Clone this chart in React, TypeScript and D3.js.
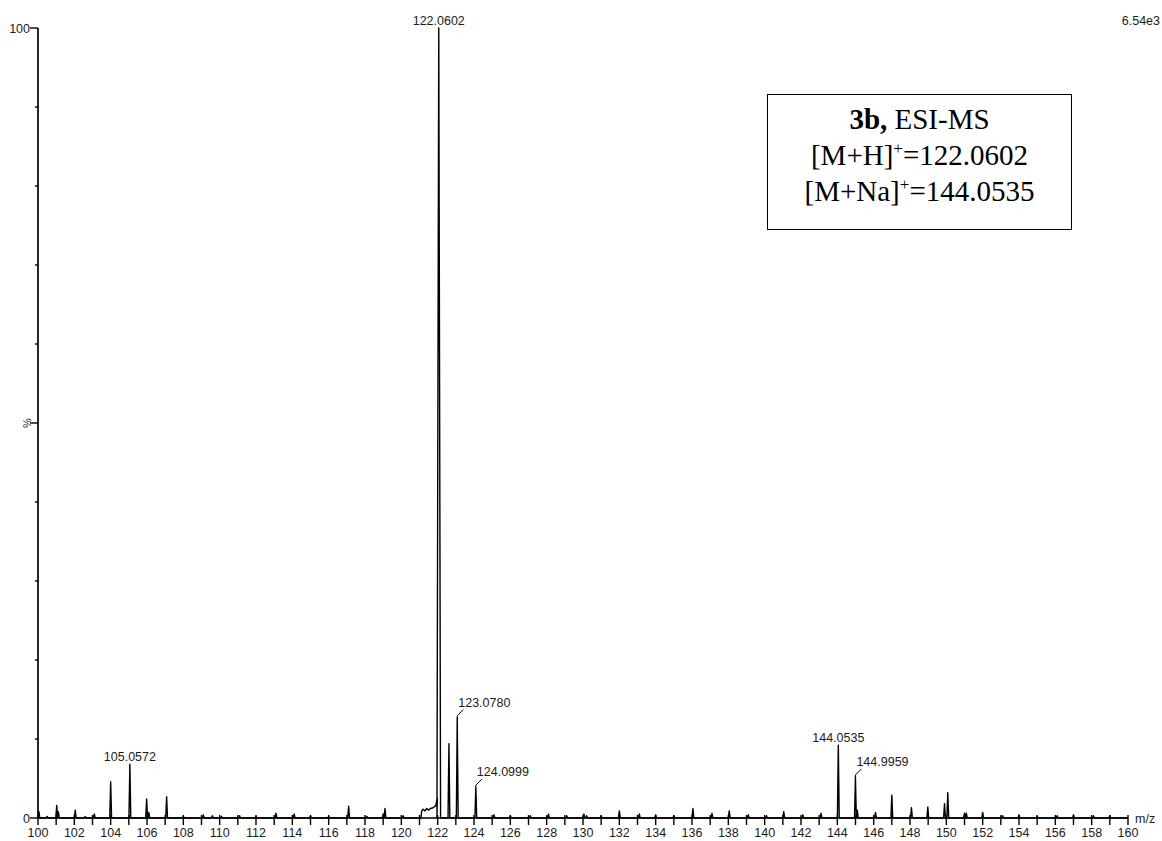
import React, { useEffect, useRef } from "react";
import * as d3 from "d3";

// centroid peaks (m/z, relative intensity %)
const peakMz = [
  100.05, 100.5, 101.03, 101.12, 102.05, 102.6, 103.1, 104.0, 105.0572, 105.98,
  106.1, 107.08, 108.0, 109.1, 109.6, 110.1, 111.1, 112.0, 113.1, 114.1,
  115.0, 116.0, 117.1, 118.1, 119.0, 119.1, 120.1, 122.0602, 122.62, 123.078,
  124.0999, 125.1, 126.0, 127.1, 128.1, 129.1, 130.05, 130.2, 131.0, 132.0,
  133.1, 134.0, 135.0, 136.05, 137.1, 138.05, 139.1, 140.1, 141.05, 142.1,
  143.1, 144.0535, 144.9959, 145.1, 146.1, 147.0, 148.08, 148.98, 149.9, 150.08,
  151.0, 151.1, 152.0, 153.1, 154.0, 155.0, 156.1, 157.0, 158.1, 159.0,
];
const peakPct = [
  0.8, 0.2, 1.6, 0.8, 1.0, 0.2, 0.5, 4.6, 6.8, 2.4,
  0.7, 2.7, 0.2, 0.4, 0.3, 0.2, 0.3, 0.2, 0.6, 0.5,
  0.3, 0.2, 1.5, 0.2, 0.5, 1.2, 0.3, 100, 9.4, 12.7,
  3.9, 0.4, 0.3, 0.3, 0.5, 0.3, 0.5, 0.3, 0.3, 0.9,
  0.5, 0.4, 0.3, 1.2, 0.6, 0.9, 0.4, 0.3, 0.8, 0.4,
  0.6, 9.2, 5.2, 1.0, 0.7, 2.9, 1.3, 1.4, 1.8, 3.2,
  0.6, 0.6, 0.7, 0.3, 0.4, 0.2, 0.3, 0.4, 0.3, 0.3,
];

// low plateau in front of the base peak
const shoulderMz = [121.08, 121.12, 121.2, 121.3, 121.4, 121.5, 121.6, 121.75, 121.9, 121.98];
const shoulderPct = [0, 0.9, 1.1, 0.9, 1.2, 1.0, 1.2, 1.3, 1.6, 2.6];

// annotated peaks
const labelMz = [105.0572, 122.0602, 123.078, 124.0999, 144.0535, 144.9959];
const labelText = ["105.0572", "122.0602", "123.0780", "124.0999", "144.0535", "144.9959"];
const labelLeader = [false, false, true, true, false, true];

const xDomain = [100, 160];
const xMinorTicks = d3.range(100, 161, 1);
const xTickLabels = d3.range(100, 161, 2);
const yMinorTicks = d3.range(0, 101, 10);
const yMajorTicks = [0, 100];

const legendLines = ["[M+H]", "=122.0602", "[M+Na]", "=144.0535"];

const width = 1162;
const height = 841;

const Spectrum = () => {
  const ref = useRef<SVGSVGElement>(null);

  useEffect(() => {
    const svg = d3.select(ref.current);
    svg.selectAll("*").remove();

    const x = d3.scaleLinear().domain(xDomain).range([38, 1128]);
    const y = d3.scaleLinear().domain([0, 100]).range([818, 28]);
    const sans = "'Liberation Sans', Arial, sans-serif";
    const ink = "#1b1b1b";
    const fs = 12.5;

    // build the profile: each centroid drawn as a narrow triangle
    const pts: [number, number][] = [[xDomain[0], 0]];
    const peaks = peakMz.map((m, i) => ({ m, p: peakPct[i] }));
    shoulderMz.forEach((m, i) => peaks.push({ m, p: shoulderPct[i] }));
    peaks.sort((a, b) => a.m - b.m);
    peaks.forEach(({ m, p }) => {
      const inShoulder = m > 121.05 && m < 122;
      if (inShoulder) {
        pts.push([m, p]);
        return;
      }
      const w = p > 50 ? 0.1 : 0.05;
      pts.push([m - w, 0], [m, p], [m + w, 0]);
    });
    pts.push([xDomain[1], 0]);

    const line = d3
      .line<[number, number]>()
      .x((d) => x(d[0]))
      .y((d) => y(d[1]));

    svg
      .append("path")
      .attr("d", line(pts))
      .attr("fill", "none")
      .attr("stroke", "#000")
      .attr("stroke-width", 1.4)
      .attr("stroke-linejoin", "round");

    // x axis
    svg
      .append("line")
      .attr("x1", x(xDomain[0]))
      .attr("x2", x(xDomain[1]))
      .attr("y1", y(0))
      .attr("y2", y(0))
      .attr("stroke", "#000")
      .attr("stroke-width", 1.7);

    svg
      .append("g")
      .selectAll("line")
      .data(xMinorTicks)
      .join("line")
      .attr("x1", (d) => x(d))
      .attr("x2", (d) => x(d))
      .attr("y1", y(0) - 3)
      .attr("y2", y(0) + 7)
      .attr("stroke", "#000")
      .attr("stroke-width", 1.4);

    svg
      .append("g")
      .selectAll("text")
      .data(xTickLabels)
      .join("text")
      .attr("x", (d) => x(d))
      .attr("y", 837)
      .attr("text-anchor", "middle")
      .attr("font-family", sans)
      .attr("font-size", fs)
      .attr("fill", ink)
      .text((d) => d);

    svg
      .append("text")
      .attr("x", 1135)
      .attr("y", 823)
      .attr("font-family", sans)
      .attr("font-size", fs)
      .attr("fill", ink)
      .text("m/z");

    // y axis
    svg
      .append("line")
      .attr("x1", x(xDomain[0]))
      .attr("x2", x(xDomain[0]))
      .attr("y1", y(100))
      .attr("y2", y(0))
      .attr("stroke", "#000")
      .attr("stroke-width", 1.7);

    svg
      .append("g")
      .selectAll("line")
      .data(yMinorTicks)
      .join("line")
      .attr("x1", (d) => x(xDomain[0]) - (d % 50 === 0 ? 8 : 3))
      .attr("x2", x(xDomain[0]))
      .attr("y1", (d) => y(d))
      .attr("y2", (d) => y(d))
      .attr("stroke", "#000")
      .attr("stroke-width", 1.4);

    svg
      .append("g")
      .selectAll("text")
      .data(yMajorTicks)
      .join("text")
      .attr("x", 30)
      .attr("y", (d) => y(d) + 4.5)
      .attr("text-anchor", "end")
      .attr("font-family", sans)
      .attr("font-size", fs)
      .attr("fill", ink)
      .text((d) => d);

    svg
      .append("text")
      .attr("transform", `translate(27, ${y(50)}) rotate(-90)`)
      .attr("text-anchor", "middle")
      .attr("dy", "0.35em")
      .attr("font-family", sans)
      .attr("font-size", 11)
      .attr("fill", ink)
      .text("%");

    svg
      .append("text")
      .attr("x", 1160)
      .attr("y", 25)
      .attr("text-anchor", "end")
      .attr("font-family", sans)
      .attr("font-size", fs)
      .attr("fill", ink)
      .text("6.54e3");

    // peak annotations
    const lbl = svg.append("g");
    labelMz.forEach((m, i) => {
      const idx = peakMz.indexOf(m);
      const px = x(m);
      const top = y(peakPct[idx]);
      if (labelLeader[i]) {
        lbl
          .append("path")
          .attr("d", `M${px},${top} L${px},${top - 2} L${px + 6},${top - 8}`)
          .attr("fill", "none")
          .attr("stroke", "#000")
          .attr("stroke-width", 1);
        lbl
          .append("text")
          .attr("x", px + 1)
          .attr("y", top - 11)
          .attr("font-family", sans)
          .attr("font-size", fs)
          .attr("fill", ink)
          .text(labelText[i]);
      } else {
        lbl
          .append("text")
          .attr("x", px)
          .attr("y", top - 3)
          .attr("text-anchor", "middle")
          .attr("font-family", sans)
          .attr("font-size", fs)
          .attr("fill", ink)
          .text(labelText[i]);
      }
    });

    // legend box
    const lg = svg.append("g");
    lg.append("rect")
      .attr("x", 767.5)
      .attr("y", 94.5)
      .attr("width", 304)
      .attr("height", 135)
      .attr("fill", "#fff")
      .attr("stroke", "#000")
      .attr("stroke-width", 1);

    const serif = "'Liberation Serif', 'Times New Roman', serif";
    const cx = 919.5;
    const t1 = lg
      .append("text")
      .attr("x", cx)
      .attr("y", 129)
      .attr("text-anchor", "middle")
      .attr("font-family", serif)
      .attr("font-size", 29);
    t1.append("tspan").attr("font-weight", "bold").text("3b,");
    t1.append("tspan").text(" ESI-MS");

    [0, 1].forEach((k) => {
      const t = lg
        .append("text")
        .attr("x", cx)
        .attr("y", 165 + k * 35.5)
        .attr("text-anchor", "middle")
        .attr("font-family", serif)
        .attr("font-size", 29);
      t.append("tspan").text(legendLines[k * 2]);
      t.append("tspan").attr("font-size", 17).attr("dy", -11).text("+");
      t.append("tspan").attr("dy", 11).text(legendLines[k * 2 + 1]);
    });
  }, []);

  return <svg ref={ref} width={width} height={height} style={{ display: "block", background: "#fff" }} />;
};

export default function App() {
  return (
    <div style={{ position: "absolute", left: 0, top: 0, width, height, background: "#fff" }}>
      <Spectrum />
    </div>
  );
}
